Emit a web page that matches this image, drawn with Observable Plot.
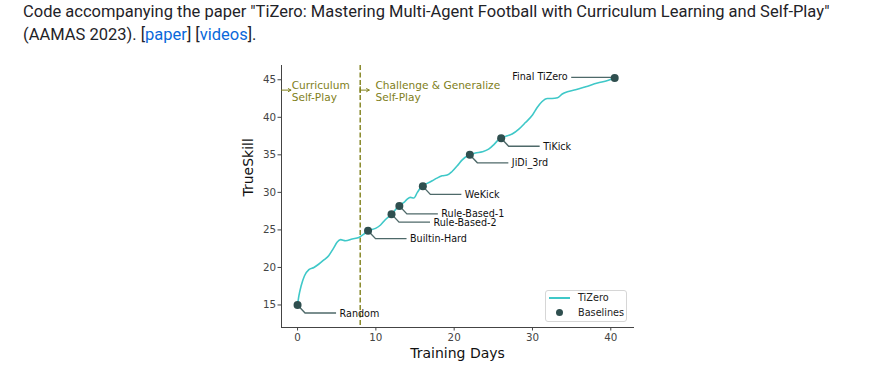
<!DOCTYPE html>
<html>
<head>
<meta charset="utf-8">
<script src="https://cdn.jsdelivr.net/npm/d3@7"></script>
<script src="https://cdn.jsdelivr.net/npm/@observablehq/plot@0.6"></script>
<style>
  body { margin: 0; background: #fff; width: 875px; height: 370px; overflow: hidden; position: relative; }
  #hdr { position: absolute; left: 23px; top: 0px; font-family: Roboto, "Liberation Sans", Arial, sans-serif; font-size: 16.5px; line-height: 23px; color: #1f2328; white-space: nowrap; }
  #hdr a { color: #0969da; text-decoration: none; }
  #chart { position: absolute; left: 0; top: 50px; }
  #legend { position: absolute; left: 545px; top: 290px; width: 80px; height: 30px; border: 1px solid #d6d6d6; border-radius: 3px; background: #fff; font-family: "DejaVu Sans", sans-serif; font-size: 9.7px; color: #222; }
  #legend .sw-line { position: absolute; left: 3px; top: 6px; width: 21px; height: 1.5px; }
  #legend .sw-dot { position: absolute; left: 9.5px; top: 18px; width: 7px; height: 7px; border-radius: 50%; }
  #legend .lab { position: absolute; left: 32px; line-height: 12px; }
</style>
</head>
<body>
<div id="hdr">Code accompanying the paper "TiZero: Mastering Multi-Agent Football with Curriculum Learning and Self-Play"<br>(AAMAS 2023). [<a>paper</a>] [<a>videos</a>].</div>
<div id="chart"></div>
<div id="legend"></div>
<script>
// ---- data ----
const curveDays  = [0, 0.17, 0.47, 0.89, 1.45, 2.09, 2.73, 3.36, 4.0, 4.56, 5.07, 5.5, 6.13, 6.98, 7.83, 8.47, 9.0, 9.96, 10.6, 11.2, 12.0, 12.94, 13.58, 14.0, 14.4, 14.85, 15.3, 15.92, 16.55, 17.2, 17.8, 18.45, 19.1, 19.7, 20.4, 21.0, 21.9, 22.7, 23.6, 24.4, 25.1, 25.85, 26.56, 27.4, 28.26, 29.1, 30.0, 30.6, 31.2, 31.9, 32.5, 33.2, 33.8, 34.45, 35.5, 36.8, 38.3, 39.6, 40.5];
const curveSkill = [15, 16.2, 17.6, 18.9, 19.7, 20.0, 20.46, 21.0, 21.6, 22.5, 23.4, 23.7, 23.56, 23.8, 24.0, 24.45, 24.9, 25.2, 25.65, 26.36, 27.1, 28.2, 28.66, 29.1, 29.33, 29.25, 30.0, 30.9, 31.2, 31.55, 31.9, 32.2, 32.3, 32.75, 33.55, 34.3, 34.97, 35.24, 35.4, 35.75, 36.4, 37.2, 37.45, 37.77, 38.43, 39.3, 40.3, 41.3, 42.07, 42.5, 42.5, 42.6, 43.1, 43.4, 43.67, 44.07, 44.56, 44.9, 45.25];

const baselineNames = ["Random", "Builtin-Hard", "Rule-Based-2", "Rule-Based-1", "WeKick", "JiDi_3rd", "TiKick", "Final TiZero"];
const baselineDays  = [0, 9, 12, 13, 16, 22, 26, 40.5];
const baselineSkill = [15, 24.9, 27.1, 28.2, 30.8, 35.0, 37.2, 45.25];

const phaseLabels = ["Curriculum\nSelf-Play", "Challenge & Generalize\nSelf-Play"];
const phaseSwitchDay = 8;

const xTicks = [0, 10, 20, 30, 40];
const yTicks = [15, 20, 25, 30, 35, 40, 45];
const xLabel = "Training Days";
const yLabel = "TrueSkill";
const seriesName = "TiZero";
const baselinesName = "Baselines";
const finalName = "Final TiZero";

// ---- build ----
const xDomain = [-2.05, 42.9];
const yDomain = [12, 46.9];
const curve = curveDays.map((d, i) => ({day: d, skill: curveSkill[i]}));
const baselines = baselineNames.map((n, i) => ({name: n, day: baselineDays[i], skill: baselineSkill[i]}));
const rightLabels = baselines.filter(d => d.name !== finalName);
const leftLabels = baselines.filter(d => d.name === finalName);

const TEAL = "#3fc8c8";
const DARK = "#2f4f4f";
const OLIVE = "#80801a";

const phaseY = 43.45;
const arrowY = 43.62;

function connectors(a, b) {
  const sc = (b && typeof b.x === "function") ? b : a;
  const g = d3.create("svg:g")
    .attr("fill", "none").attr("stroke", DARK)
    .attr("stroke-opacity", 0.85).attr("stroke-width", 1.4);
  baselines.forEach(d => {
    const px = sc.x(d.day), py = sc.y(d.skill);
    const path = d.name === finalName
      ? `M${px},${py}H${px - 43}`
      : `M${px},${py}L${px + 8},${py + 8.5}H${px + 39}`;
    g.append("path").attr("d", path);
  });
  return g.node();
}

const chart = Plot.plot({
  width: 875,
  height: 320,
  marginLeft: 281,
  marginRight: 242,
  marginTop: 15,
  marginBottom: 43,
  style: {fontFamily: "DejaVu Sans, sans-serif", fontSize: "10.3px", color: "#444", background: "transparent"},
  x: {domain: xDomain, ticks: xTicks, tickSize: 3.5, tickPadding: 3, line: true, label: null},
  y: {domain: yDomain, ticks: yTicks, tickSize: 3.5, tickPadding: 2, line: true, label: null},
  marks: [
    Plot.ruleX([phaseSwitchDay], {stroke: OLIVE, strokeWidth: 1.4, strokeDasharray: "5,2.5"}),
    Plot.ruleX([phaseSwitchDay], {y1: arrowY - 0.45, y2: arrowY + 0.45, stroke: OLIVE, strokeWidth: 1.2}),
    Plot.arrow([{x1: xDomain[0], x2: -0.85}, {x1: phaseSwitchDay, x2: 9.15}], {
      x1: "x1", x2: "x2", y1: arrowY, y2: arrowY, stroke: OLIVE, strokeWidth: 1, headLength: 4.5, insetEnd: 0, insetStart: 0
    }),
    Plot.text([{x: -0.75, t: phaseLabels[0]}, {x: 9.95, t: phaseLabels[1]}], {
      x: "x", y: phaseY, text: "t", textAnchor: "start", lineAnchor: "middle", lineHeight: 1.1,
      fill: OLIVE, fontSize: 10.6
    }),
    Plot.line(curve, {x: "day", y: "skill", stroke: TEAL, strokeWidth: 1.6, curve: "monotone-x"}),
    connectors,
    Plot.dot(baselines, {x: "day", y: "skill", r: 4, fill: DARK, stroke: "none"}),
    Plot.text(rightLabels, {x: "day", y: "skill", text: "name", dx: 42, dy: 8.5, textAnchor: "start", lineAnchor: "middle", fontSize: 9.6, fill: "#111"}),
    Plot.text(leftLabels, {x: "day", y: "skill", text: "name", dx: -47, dy: -1, textAnchor: "end", lineAnchor: "middle", fontSize: 9.6, fill: "#111"}),
    Plot.text([xLabel], {frameAnchor: "bottom", dy: 26.5, lineAnchor: "middle", fontSize: 14, fill: "#111"}),
    Plot.text([yLabel], {frameAnchor: "left", rotate: -90, dx: -32.8, lineAnchor: "middle", fontSize: 14, fill: "#111"})
  ]
});
document.getElementById("chart").appendChild(chart);

// legend
const lg = document.getElementById("legend");
lg.innerHTML =
  `<div class="sw-line" style="background:${TEAL}"></div><div class="lab" style="top:0.5px">${seriesName}</div>` +
  `<div class="sw-dot" style="background:${DARK}"></div><div class="lab" style="top:15.5px">${baselinesName}</div>`;
</script>
</body>
</html>
